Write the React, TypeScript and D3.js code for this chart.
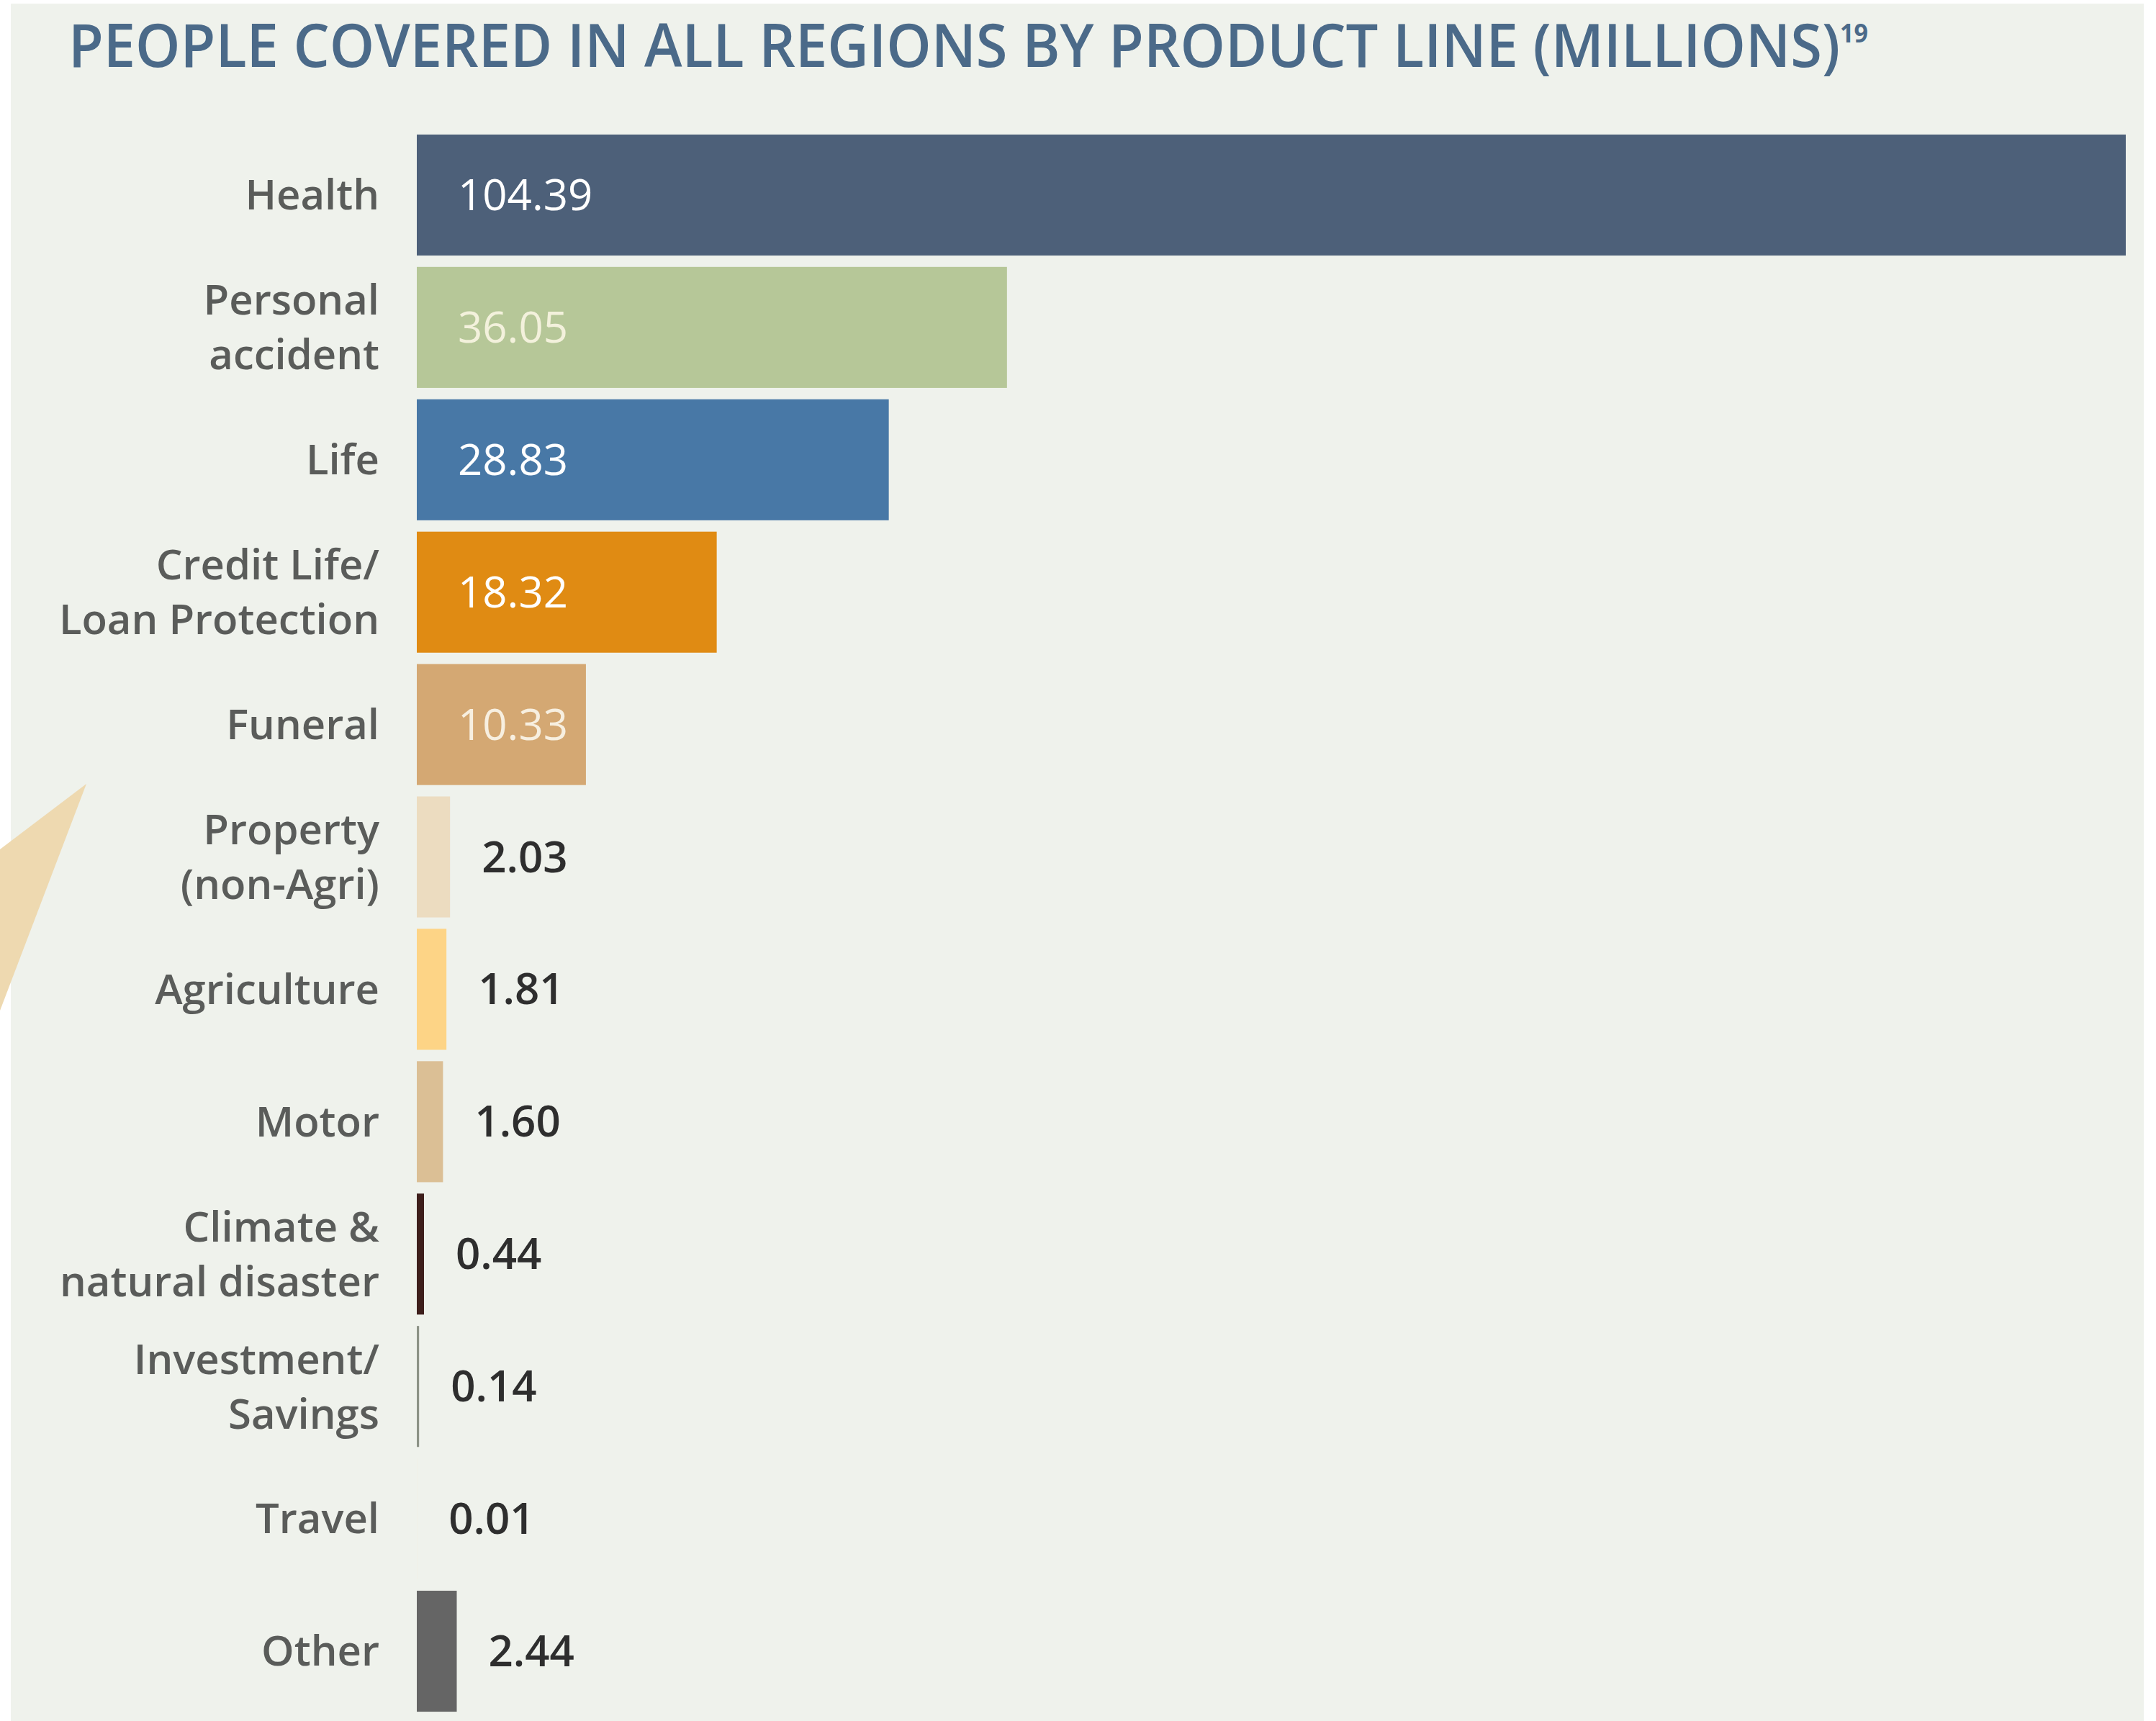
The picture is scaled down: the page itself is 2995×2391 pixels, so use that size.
import React from "react";
import * as d3 from "d3";

const categories: string[][] = [
  ["Health"],
  ["Personal", "accident"],
  ["Life"],
  ["Credit Life/", "Loan Protection"],
  ["Funeral"],
  ["Property", "(non-Agri)"],
  ["Agriculture"],
  ["Motor"],
  ["Climate &", "natural disaster"],
  ["Investment/", "Savings"],
  ["Travel"],
  ["Other"],
];
const values: number[] = [104.39, 36.05, 28.83, 18.32, 10.33, 2.03, 1.81, 1.6, 0.44, 0.14, 0.01, 2.44];
const valueLabels: string[] = ["104.39", "36.05", "28.83", "18.32", "10.33", "2.03", "1.81", "1.60", "0.44", "0.14", "0.01", "2.44"];
const barColors: string[] = [
  "#4d6079", "#b6c798", "#4878a6", "#e08b13", "#d4a873", "#ecdcc0",
  "#fdd486", "#dbbf95", "#3e1f1c", "#8c9286", "#f3ecd6", "#656565",
];
const insideLabelColors: string[] = ["#ffffff", "#f3f1dc", "#ffffff", "#ffffff", "#f7efe0"];
const title = "PEOPLE COVERED IN ALL REGIONS BY PRODUCT LINE (MILLIONS)";
const titleNote = "19";

const W = 2995;
const H = 2391;
const FONT = "'Open Sans', 'DejaVu Sans', sans-serif";

export default function App() {
  const keys = categories.map((c) => c.join(" "));
  const y = d3.scaleBand<string>().domain(keys).range([179, 2386]).paddingInner(0.086).paddingOuter(0.043);
  const x = d3.scaleLinear().domain([0, 104.39]).range([579, 2953]);
  const bw = y.bandwidth();

  return (
    <svg width={W} height={H} style={{ position: "absolute", left: 0, top: 0, display: "block" }}>
      <rect x={0} y={0} width={W} height={H} fill="#ffffff" />
      <rect x={15} y={5} width={2963} height={H - 5} fill="#eff2ec" />
      <polygon points="120,1089 0,1180 0,1404" fill="#eed9b0" />
      <text
        x={95}
        y={93}
        fontFamily={FONT}
        fontWeight={600}
        fontSize={84}
        fill="#4b6a89"
        textLength={2500}
        lengthAdjust="spacingAndGlyphs"
      >
        {title}
        <tspan fontSize={36} fontWeight={700} dy={-34}>{titleNote}</tspan>
      </text>
      {keys.map((k, i) => {
        const y0 = y(k)!;
        const cy = y0 + bw / 2;
        const lines = categories[i];
        const lh = 76;
        const wBar = Math.max(0, x(values[i]) - x(0));
        const inside = values[i] > 5;
        return (
          <g key={k}>
            <rect x={x(0)} y={y0} width={wBar} height={bw} fill={barColors[i]} />
            {lines.map((ln, j) => (
              <text
                key={j}
                x={527}
                y={cy + (j - (lines.length - 1) / 2) * lh}
                dy="0.35em"
                textAnchor="end"
                fontFamily={FONT}
                fontWeight={600}
                fontSize={58}
                fill="#5a5c5a"
              >
                {ln}
              </text>
            ))}
            <text
              x={inside ? x(0) + 57 : x(values[i]) + 44}
              y={cy}
              dy="0.35em"
              fontFamily={FONT}
              fontWeight={inside ? 500 : 600}
              fontSize={60}
              fill={inside ? insideLabelColors[i] : "#2e2e2e"}
            >
              {valueLabels[i]}
            </text>
          </g>
        );
      })}
    </svg>
  );
}
